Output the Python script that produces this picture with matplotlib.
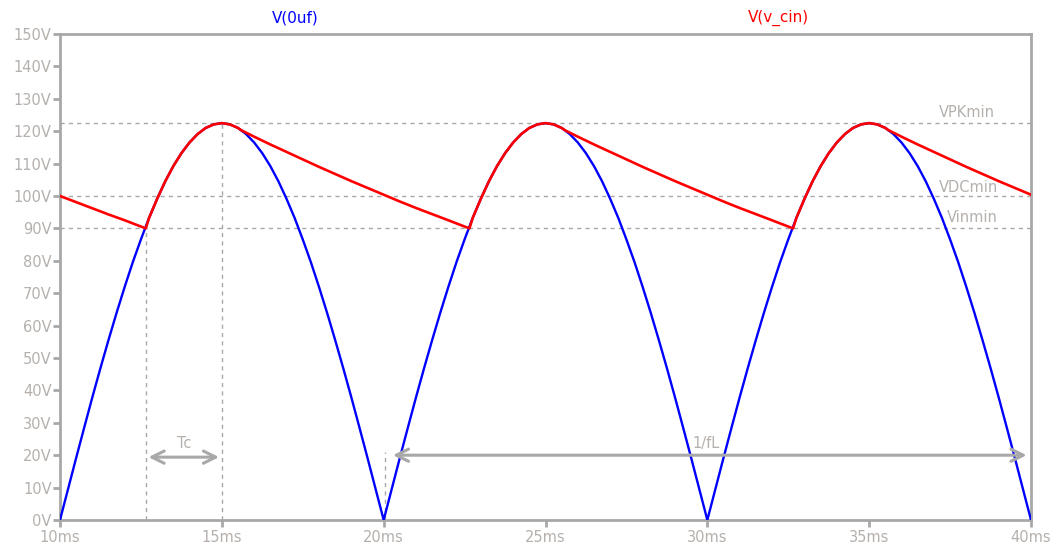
import matplotlib
matplotlib.use("Agg")
import matplotlib.pyplot as plt

# ---- data ----
t_blue = [10.0 + 0.25 * i for i in range(121)]  # ms grid, 0.25 ms step
v_blue = [
    0.0, 9.6, 19.2, 28.6, 37.9, 46.9, 55.6, 64.0, 72.0, 79.6,
    86.6, 93.2, 99.1, 104.5, 109.2, 113.2, 116.5, 119.1, 121.0, 122.1,
    122.5, 122.1, 121.0, 119.1, 116.5, 113.2, 109.2, 104.5, 99.1, 93.2,
    86.6, 79.6, 72.0, 64.0, 55.6, 46.9, 37.9, 28.6, 19.2, 9.6,
    0.0, 9.6, 19.2, 28.6, 37.9, 46.9, 55.6, 64.0, 72.0, 79.6,
    86.6, 93.2, 99.1, 104.5, 109.2, 113.2, 116.5, 119.1, 121.0, 122.1,
    122.5, 122.1, 121.0, 119.1, 116.5, 113.2, 109.2, 104.5, 99.1, 93.2,
    86.6, 79.6, 72.0, 64.0, 55.6, 46.9, 37.9, 28.6, 19.2, 9.6,
    0.0, 9.6, 19.2, 28.6, 37.9, 46.9, 55.6, 64.0, 72.0, 79.6,
    86.6, 93.2, 99.1, 104.5, 109.2, 113.2, 116.5, 119.1, 121.0, 122.1,
    122.5, 122.1, 121.0, 119.1, 116.5, 113.2, 109.2, 104.5, 99.1, 93.2,
    86.6, 79.6, 72.0, 64.0, 55.6, 46.9, 37.9, 28.6, 19.2, 9.6,
    0.0,
]

t_red = [
    10.0, 10.5, 11.0, 11.5, 12.0, 12.65,
    12.75, 13.0, 13.25, 13.5, 13.75, 14.0, 14.25, 14.5, 14.75,
    15.0, 15.25, 15.5, 15.6, 16.0, 16.5, 17.0, 17.5, 18.0, 18.5, 19.0, 19.5,
    20.0, 20.5, 21.0, 21.5, 22.0, 22.65,
    22.75, 23.0, 23.25, 23.5, 23.75, 24.0, 24.25, 24.5, 24.75,
    25.0, 25.25, 25.5, 25.6, 26.0, 26.5, 27.0, 27.5, 28.0, 28.5, 29.0, 29.5,
    30.0, 30.5, 31.0, 31.5, 32.0, 32.65,
    32.75, 33.0, 33.25, 33.5, 33.75, 34.0, 34.25, 34.5, 34.75,
    35.0, 35.25, 35.5, 35.6, 36.0, 36.5, 37.0, 37.5, 38.0, 38.5, 39.0, 39.5,
    40.0,
]
v_red = [
    100.0, 98.1, 96.2, 94.3, 92.5, 90.0,
    93.2, 99.1, 104.5, 109.2, 113.2, 116.5, 119.1, 121.0, 122.1,
    122.5, 122.1, 121.0, 120.3, 118.3, 115.9, 113.6, 111.3, 109.0, 106.8, 104.6, 102.5,
    100.4, 98.3, 96.3, 94.4, 92.5, 90.0,
    93.2, 99.1, 104.5, 109.2, 113.2, 116.5, 119.1, 121.0, 122.1,
    122.5, 122.1, 121.0, 120.3, 118.3, 115.9, 113.6, 111.3, 109.0, 106.8, 104.6, 102.5,
    100.4, 98.3, 96.3, 94.4, 92.5, 90.0,
    93.2, 99.1, 104.5, 109.2, 113.2, 116.5, 119.1, 121.0, 122.1,
    122.5, 122.1, 121.0, 120.3, 118.3, 115.9, 113.6, 111.3, 109.0, 106.8, 104.6, 102.5,
    100.4,
]

ref_levels = [122.5, 100.0, 90.0]
ref_labels = ["VPKmin", "VDCmin", "Vinmin"]

y_ticks = list(range(0, 151, 10))
y_tick_labels = [f"{v}V" for v in y_ticks]
x_ticks = [10, 15, 20, 25, 30, 35, 40]
x_tick_labels = [f"{v}ms" for v in x_ticks]

t_charge_start = 12.65
t_peak = 15.0
t_zero = 20.05

GRAY = "#a8a8a8"
LABEL = "#b5b0ac"
FS = 10.5

fig = plt.figure(figsize=(10.53, 5.46), dpi=100)
ax = fig.add_axes([60 / 1053, 26 / 546, 971 / 1053, 486 / 546])

ax.set_xlim(10, 40)
ax.set_ylim(0, 150)

dash = (0, (3, 3))
for lvl in ref_levels:
    ax.axhline(lvl, color=GRAY, lw=1, ls=dash, zorder=1)
ax.plot([t_charge_start, t_charge_start], [0, 90], color=GRAY, lw=1, ls=dash, zorder=1)
ax.plot([t_peak, t_peak], [0, 122.5], color=GRAY, lw=1, ls=dash, zorder=1)
ax.plot([t_zero, t_zero], [0, 21], color=GRAY, lw=1, ls=dash, zorder=1)

ax.plot(t_blue, v_blue, color="#0000ff", lw=1.7, zorder=3)
ax.plot(t_red, v_red, color="#ff0000", lw=1.9, zorder=4)

ax.text(37.15, 123.6, ref_labels[0], color=LABEL, fontsize=FS, va="bottom", ha="left")
ax.text(37.15, 100.4, ref_labels[1], color=LABEL, fontsize=FS, va="bottom", ha="left")
ax.text(37.4, 90.9, ref_labels[2], color=LABEL, fontsize=FS, va="bottom", ha="left")

ax.annotate("", xy=(t_charge_start, 19.4), xytext=(t_peak, 19.4),
            arrowprops=dict(arrowstyle="<->", color=GRAY, lw=2.2, mutation_scale=22))
ax.text(13.85, 21.3, "Tc", color=LABEL, fontsize=FS, ha="center", va="bottom")
ax.annotate("", xy=(20.2, 20.0), xytext=(39.95, 20.0),
            arrowprops=dict(arrowstyle="<->", color=GRAY, lw=2.2, mutation_scale=22))
ax.text(29.95, 21.3, "1/fL", color=LABEL, fontsize=FS, ha="center", va="bottom")

for s in ax.spines.values():
    s.set_color(GRAY)
    s.set_linewidth(2)
ax.set_yticks(y_ticks)
ax.set_yticklabels(y_tick_labels)
ax.set_xticks(x_ticks)
ax.set_xticklabels(x_tick_labels)
ax.tick_params(axis="both", colors=GRAY, labelcolor=LABEL, labelsize=FS, length=5, width=2,
               direction="out")
ax.tick_params(axis="y", pad=1)
ax.tick_params(axis="x", pad=2.5)

fig.text(295 / 1053, 1 - 18 / 546, "V(0uf)", color="#0000ff", fontsize=11, ha="center", va="center")
fig.text(778 / 1053, 1 - 18 / 546, "V(v_cin)", color="#ff0000", fontsize=11, ha="center", va="center")

fig.savefig("out.png", dpi=100)
